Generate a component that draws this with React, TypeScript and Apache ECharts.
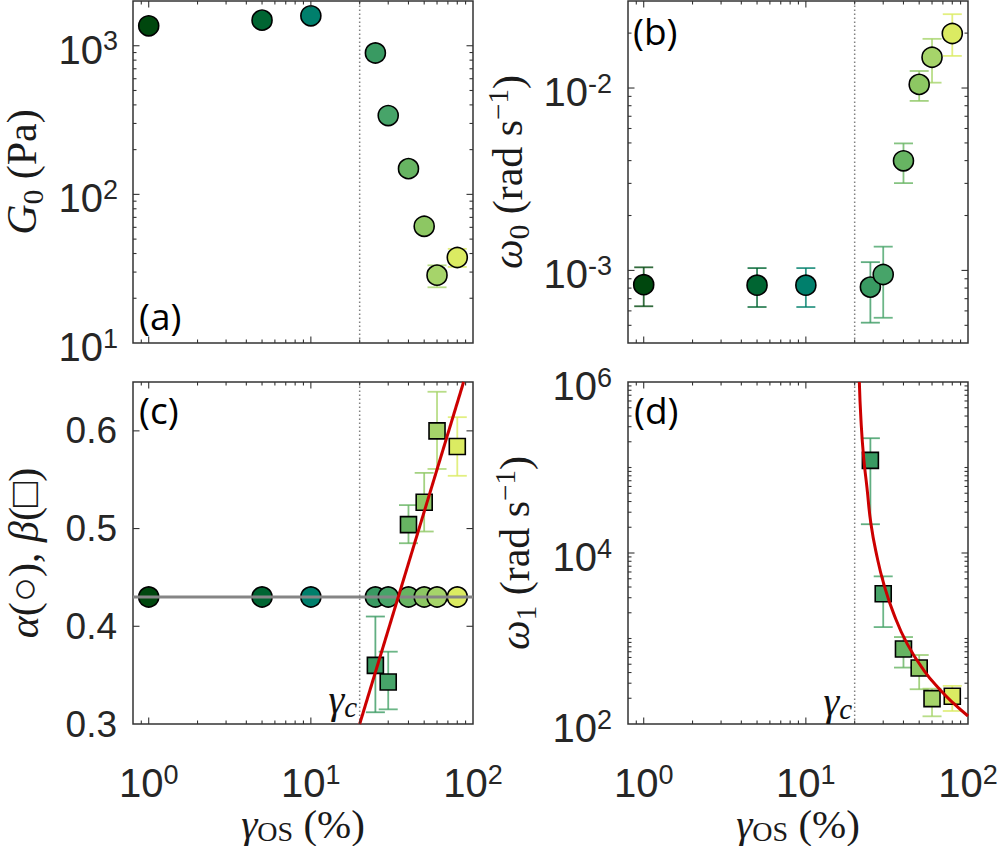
import React, { useEffect, useRef } from "react";
import * as echarts from "echarts";

// ---------------- data ----------------
const strain = [1, 5, 10, 25, 30, 40, 50, 60, 80];
const pointColors = ["#00470e", "#006532", "#007f6c", "#399a62", "#47a469", "#67b462", "#8dc763", "#a6d46a", "#dbeb62"];

const G0 = [1362, 1487, 1590, 894, 339, 149, 61, 28.6, 37.6];
const G0Low = [null, null, null, null, null, null, null, 23.7, 32.5];
const G0High = [null, null, null, null, null, null, null, 33.3, 43];

const omega0 = [8.35e-4, 8.3e-4, 8.3e-4, 8.1e-4, 9.5e-4, 3.99e-3, 1.047e-2, 1.475e-2, 1.99e-2];
const omega0Low = [6.36e-4, 6.3e-4, 6.3e-4, 5.17e-4, 5.5e-4, 3.01e-3, 8.5e-3, 1.07e-2, 1.5e-2];
const omega0High = [1.04e-3, 1.03e-3, 1.03e-3, 1.11e-3, 1.35e-3, 4.97e-3, 1.24e-2, 1.86e-2, 2.54e-2];

const alpha = [0.43, 0.43, 0.43, 0.43, 0.43, 0.43, 0.43, 0.43, 0.43];
const alphaMean = 0.43;
const alphaLineX = [0.8, 100];

const fluidStrain = [25, 30, 40, 50, 60, 80];
const fluidColorIdx = [3, 4, 5, 6, 7, 8];
const beta = [0.36, 0.343, 0.504, 0.527, 0.6, 0.584];
const betaLow = [0.312, 0.315, 0.485, 0.497, 0.561, 0.554];
const betaHigh = [0.41, 0.374, 0.524, 0.557, 0.64, 0.614];
const betaFitX = [20, 87.5];
const betaFitY = [0.3, 0.65];

const omega1 = [1.21e5, 3340, 753, 452, 198, 211];
const omega1Low = [2.17e4, 1360, 457, 255, 123, 142];
const omega1High = [2.2e5, 5330, 1040, 641, 259, 279];
const omega1FitX = [21.37, 21.88, 22.7, 23.8, 25.2, 27.5, 30.2, 34.8, 42.1, 53.4, 67.7, 81.9, 100];
const omega1FitY = [1e6, 3.56e5, 1.33e5, 5.9e4, 2.2e4, 8980, 4390, 1955, 871, 425, 248, 173, 124];

const gammaC = 20;

// axis ranges & ticks
const xRange = [0.8, 100];
const xMajorTicks = [1, 10, 100];
const xMinorTicks = [0.9, 2, 3, 4, 5, 6, 7, 8, 9, 20, 30, 40, 50, 60, 70, 80, 90];
const g0Range = [10, 2000];
const g0MajorTicks = [10, 100, 1000];
const g0MinorTicks = [20, 30, 40, 50, 60, 70, 80, 90, 200, 300, 400, 500, 600, 700, 800, 900];
const w0Range = [4e-4, 3e-2];
const w0MajorTicks = [1e-3, 1e-2];
const w0MinorTicks = [5e-4, 6e-4, 7e-4, 8e-4, 9e-4, 2e-3, 3e-3, 4e-3, 5e-3, 6e-3, 7e-3, 8e-3, 9e-3, 2e-2];
const abRange = [0.3, 0.65];
const abMajorTicks = [0.3, 0.4, 0.5, 0.6];
const abMinorTicks: number[] = [];
const w1Range = [1e2, 1e6];
const w1MajorTicks = [1e2, 1e4, 1e6];
const w1MinorTicks = [
  2e2, 3e2, 4e2, 5e2, 6e2, 7e2, 8e2, 9e2, 1e3, 2e3, 3e3, 4e3, 5e3, 6e3, 7e3, 8e3, 9e3,
  2e4, 3e4, 4e4, 5e4, 6e4, 7e4, 8e4, 9e4, 1e5, 2e5, 3e5, 4e5, 5e5, 6e5, 7e5, 8e5, 9e5,
];

// ---------------- styles ----------------
const SANS = "'Liberation Sans', Arial, sans-serif";
const SERIF = "'Liberation Serif', 'DejaVu Serif', serif";
const PANEL_FONT = "'Open Sans', 'Noto Sans', sans-serif";
const FRAME = "#333333";
const TEXT = "#262626";
const NAME_COLOR = "#1a1a1a";

const grids = [
  { left: 133, top: 1, width: 340, height: 342 },
  { left: 628, top: 1, width: 340, height: 342 },
  { left: 133, top: 382, width: 340, height: 342 },
  { left: 628, top: 382, width: 340, height: 342 },
];

const powRich = {
  b: { fontFamily: SANS, fontSize: 40, lineHeight: 44, color: TEXT },
  e: { fontFamily: SANS, fontSize: 27, lineHeight: 22, verticalAlign: "top", color: TEXT },
};

const isPow10 = (v: number) => {
  const l = Math.log10(v);
  return Math.abs(l - Math.round(l)) < 1e-6;
};
const powFormatter = (step: number) => (v: number) => {
  if (!isPow10(v)) return "";
  const e = Math.round(Math.log10(v));
  if (e % step !== 0) return "";
  return `{b|10}{e|${e}}`;
};

const nameRich = {
  i: { fontFamily: SERIF, fontStyle: "italic", fontSize: 42, lineHeight: 50, color: NAME_COLOR },
  r: { fontFamily: SERIF, fontSize: 42, lineHeight: 50, color: NAME_COLOR },
  sub: { fontFamily: SERIF, fontSize: 29, lineHeight: 29, verticalAlign: "bottom", color: NAME_COLOR },
  sup: { fontFamily: SERIF, fontSize: 29, lineHeight: 29, verticalAlign: "top", color: NAME_COLOR },
};

const xNameRich = {
  i: { fontFamily: SERIF, fontStyle: "italic", fontSize: 41, lineHeight: 42, color: NAME_COLOR },
  r: { fontFamily: SERIF, fontSize: 41, lineHeight: 42, color: NAME_COLOR },
  os: { fontFamily: SERIF, fontSize: 28, lineHeight: 27, verticalAlign: "bottom", color: NAME_COLOR },
};

// ---------------- helpers ----------------
function tickRows(xMaj: number[], xMin: number[], yMaj: number[], yMin: number[], xr: number[], yr: number[]) {
  const rows: number[][] = [];
  xMaj.forEach((v) => rows.push([v, yr[0], 0]));
  xMin.forEach((v) => rows.push([v, yr[0], 1]));
  yMaj.forEach((v) => rows.push([xr[0], v, 2]));
  yMin.forEach((v) => rows.push([xr[0], v, 3]));
  return rows;
}

const tickRender = (params: any, api: any) => {
  const cs = params.coordSys;
  const kind = api.value(2);
  const p = api.coord([api.value(0), api.value(1)]);
  const len = kind % 2 === 0 ? 6.5 : 3.5;
  const style = { stroke: FRAME, lineWidth: 1.1 };
  if (kind < 2) {
    const x = p[0];
    if (x < cs.x + 0.5 || x > cs.x + cs.width - 0.5) return null;
    return {
      type: "group",
      children: [
        { type: "line", shape: { x1: x, y1: cs.y + cs.height, x2: x, y2: cs.y + cs.height - len }, style },
        { type: "line", shape: { x1: x, y1: cs.y, x2: x, y2: cs.y + len }, style },
      ],
    };
  }
  const y = p[1];
  if (y < cs.y + 0.5 || y > cs.y + cs.height - 0.5) return null;
  return {
    type: "group",
    children: [
      { type: "line", shape: { x1: cs.x, y1: y, x2: cs.x + len, y2: y }, style },
      { type: "line", shape: { x1: cs.x + cs.width, y1: y, x2: cs.x + cs.width - len, y2: y }, style },
    ],
  };
};

const errRender = (params: any, api: any) => {
  const x = api.value(0);
  const lo = api.value(1);
  const hi = api.value(2);
  const ci = api.value(3);
  const pLo = api.coord([x, lo]);
  const pHi = api.coord([x, hi]);
  const w = 9.5;
  const style = { stroke: pointColors[ci], lineWidth: 1.8, opacity: 0.8 };
  return {
    type: "group",
    children: [
      { type: "line", shape: { x1: pLo[0], y1: pLo[1], x2: pHi[0], y2: pHi[1] }, style },
      { type: "line", shape: { x1: pLo[0] - w, y1: pLo[1], x2: pLo[0] + w, y2: pLo[1] }, style },
      { type: "line", shape: { x1: pHi[0] - w, y1: pHi[1], x2: pHi[0] + w, y2: pHi[1] }, style },
    ],
  };
};

function errRows(xs: number[], lo: (number | null)[], hi: (number | null)[], colorIdx: number[]) {
  const rows: number[][] = [];
  xs.forEach((x, i) => {
    if (lo[i] != null && hi[i] != null) rows.push([x, lo[i] as number, hi[i] as number, colorIdx[i]]);
  });
  return rows;
}

function pointData(xs: number[], ys: number[], colorIdx: number[]) {
  return xs.map((x, i) => ({ value: [x, ys[i]], itemStyle: { color: pointColors[colorIdx[i]] } }));
}

const allIdx = strain.map((_, i) => i);

function baseSeries(g: number, yr: number[], ticks: number[][]) {
  return [
    {
      type: "custom",
      xAxisIndex: g,
      yAxisIndex: g,
      renderItem: tickRender,
      data: ticks,
      encode: { x: 0, y: 1 },
      silent: true,
      z: 10,
    },
    {
      type: "line",
      xAxisIndex: g,
      yAxisIndex: g,
      data: [
        [gammaC, yr[0]],
        [gammaC, yr[1]],
      ],
      symbol: "none",
      lineStyle: { color: "#808080", width: 1.5, type: [1.4, 2.6] },
      silent: true,
      z: 1,
    },
  ];
}

function scatter(g: number, data: any[], symbol: string, size: number, z: number) {
  return {
    type: "scatter",
    xAxisIndex: g,
    yAxisIndex: g,
    data,
    symbol,
    symbolSize: size,
    itemStyle: { borderColor: "#000", borderWidth: 1.6, opacity: 1 },
    z,
  };
}

function errSeries(g: number, rows: number[][]) {
  return {
    type: "custom",
    xAxisIndex: g,
    yAxisIndex: g,
    renderItem: errRender,
    data: rows,
    encode: { x: 0, y: [1, 2] },
    silent: true,
    z: 2,
  };
}

function buildOption() {
  const xAxes = grids.map((_, i) => ({
    type: "log",
    logBase: 10,
    gridIndex: i,
    min: xRange[0],
    max: xRange[1],
    axisLine: { show: false },
    axisTick: { show: false },
    splitLine: { show: false },
    axisLabel:
      i >= 2
        ? { show: true, margin: 37, formatter: powFormatter(1), rich: powRich, color: TEXT }
        : { show: false },
    name: i >= 2 ? "{i|γ}{os|OS}{r| (%)}" : "",
    nameLocation: "middle",
    nameGap: 72,
    nameTextStyle: { rich: xNameRich },
  }));

  const commonY = {
    axisLine: { show: false },
    axisTick: { show: false },
    splitLine: { show: false },
    nameLocation: "middle",
    nameRotate: 90,
    nameTextStyle: { rich: nameRich },
  };

  const yAxes = [
    {
      ...commonY,
      type: "log",
      logBase: 10,
      gridIndex: 0,
      min: g0Range[0],
      max: g0Range[1],
      axisLabel: { margin: 15, formatter: powFormatter(1), rich: powRich, padding: [8, 0, 0, 0] },
      name: "{i|G}{sub|0}{r| (Pa)}",
      nameGap: 86,
    },
    {
      ...commonY,
      type: "log",
      logBase: 10,
      gridIndex: 1,
      min: w0Range[0],
      max: w0Range[1],
      axisLabel: { margin: 16, formatter: powFormatter(1), rich: powRich, padding: [8, 0, 0, 0] },
      name: "{i|ω}{sub|0}{r| (rad s}{sup|−1}{r|)}",
      nameGap: 95,
    },
    {
      ...commonY,
      type: "value",
      gridIndex: 2,
      min: abRange[0],
      max: abRange[1],
      interval: 0.1,
      axisLabel: {
        margin: 16,
        showMaxLabel: false,
        fontFamily: SANS,
        fontSize: 37,
        color: TEXT,
        formatter: (v: number) => (Math.abs(v * 10 - Math.round(v * 10)) < 1e-6 ? v.toFixed(1) : ""),
      },
      name: "{i|α}{r|(○), }{i|β}{r|(□)}",
      nameGap: 84,
    },
    {
      ...commonY,
      type: "log",
      logBase: 10,
      gridIndex: 3,
      min: w1Range[0],
      max: w1Range[1],
      axisLabel: { margin: 16, formatter: powFormatter(2), rich: powRich, padding: [8, 0, 0, 0] },
      name: "{i|ω}{sub|1}{r| (rad s}{sup|−1}{r|)}",
      nameGap: 88,
    },
  ];

  const series: any[] = [];

  // (a)
  series.push(...baseSeries(0, g0Range, tickRows(xMajorTicks, xMinorTicks, g0MajorTicks, g0MinorTicks, xRange, g0Range)));
  series.push(errSeries(0, errRows(strain, G0Low, G0High, allIdx)));
  series.push(scatter(0, pointData(strain, G0, allIdx), "circle", 20, 3));

  // (b)
  series.push(...baseSeries(1, w0Range, tickRows(xMajorTicks, xMinorTicks, w0MajorTicks, w0MinorTicks, xRange, w0Range)));
  series.push(errSeries(1, errRows(strain, omega0Low, omega0High, allIdx)));
  series.push(scatter(1, pointData(strain, omega0, allIdx), "circle", 20, 3));

  // (c)
  series.push(...baseSeries(2, abRange, tickRows(xMajorTicks, xMinorTicks, abMajorTicks, abMinorTicks, xRange, abRange)));
  series.push(errSeries(2, errRows(fluidStrain, betaLow, betaHigh, fluidColorIdx)));
  series.push(scatter(2, pointData(strain, alpha, allIdx), "circle", 20, 3));
  series.push({
    type: "line",
    xAxisIndex: 2,
    yAxisIndex: 2,
    data: alphaLineX.map((x) => [x, alphaMean]),
    symbol: "none",
    lineStyle: { color: "#858585", width: 3 },
    silent: true,
    z: 4,
  });
  series.push(scatter(2, pointData(fluidStrain, beta, fluidColorIdx), "rect", 16, 5));
  series.push({
    type: "line",
    xAxisIndex: 2,
    yAxisIndex: 2,
    data: betaFitX.map((x, i) => [x, betaFitY[i]]),
    symbol: "none",
    lineStyle: { color: "#cc0000", width: 3 },
    silent: true,
    z: 6,
  });

  // (d)
  series.push(...baseSeries(3, w1Range, tickRows(xMajorTicks, xMinorTicks, w1MajorTicks, w1MinorTicks, xRange, w1Range)));
  series.push(errSeries(3, errRows(fluidStrain, omega1Low, omega1High, fluidColorIdx)));
  series.push(scatter(3, pointData(fluidStrain, omega1, fluidColorIdx), "rect", 16, 5));
  series.push({
    type: "line",
    xAxisIndex: 3,
    yAxisIndex: 3,
    data: omega1FitX.map((x, i) => [x, omega1FitY[i]]),
    symbol: "none",
    smooth: 0.5,
    lineStyle: { color: "#cc0000", width: 3 },
    silent: true,
    z: 6,
  });

  const panelLabel = (text: string, x: number, y: number) => ({
    type: "text",
    x,
    y,
    z: 20,
    style: { text, fontFamily: PANEL_FONT, fontSize: 37, fill: "#000", align: "left", verticalAlign: "middle" },
  });
  const gammaLabel = (x: number, y: number) => ({
    type: "text",
    x,
    y,
    z: 20,
    style: {
      text: "{g|γ}{c|c}",
      align: "right",
      verticalAlign: "middle",
      rich: {
        g: { fontFamily: SERIF, fontStyle: "italic", fontSize: 40, lineHeight: 44, fill: "#111" },
        c: { fontFamily: SERIF, fontStyle: "italic", fontSize: 29, lineHeight: 29, verticalAlign: "bottom", fill: "#111" },
      },
    },
  });

  return {
    animation: false,
    backgroundColor: "#ffffff",
    grid: grids.map((g) => ({
      ...g,
      show: true,
      borderColor: FRAME,
      borderWidth: 1.5,
      backgroundColor: "transparent",
      containLabel: false,
      outerBoundsMode: "none",
    })),
    xAxis: xAxes,
    yAxis: yAxes,
    series,
    graphic: [
      panelLabel("(a)", 139, 315),
      panelLabel("(b)", 633, 30),
      panelLabel("(c)", 139, 409),
      panelLabel("(d)", 634, 409),
      gammaLabel(357, 699),
      gammaLabel(852, 701),
    ],
  };
}

export default function App() {
  const ref = useRef<HTMLDivElement>(null);
  useEffect(() => {
    const chart = echarts.init(ref.current as HTMLDivElement, null, { renderer: "svg" });
    chart.setOption(buildOption() as any);
    return () => chart.dispose();
  }, []);
  return (
    <div
      ref={ref}
      style={{ position: "absolute", left: 0, top: 0, width: 997, height: 846, background: "#fff" }}
    />
  );
}
